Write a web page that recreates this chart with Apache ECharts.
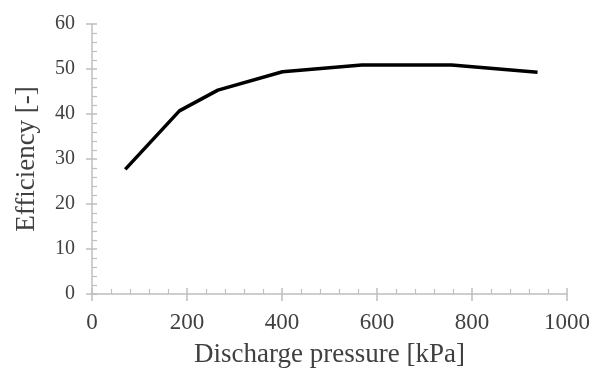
<!DOCTYPE html>
<html><head><meta charset="utf-8">
<script src="https://cdn.jsdelivr.net/npm/echarts@6/dist/echarts.min.js"></script>
<style>html,body{margin:0;padding:0;background:#fff}#c{width:599px;height:368px}</style>
</head><body><div id="c"></div>
<script>
const pressure = [70, 184, 265, 401, 568, 757, 938];
const efficiency = [27.7, 40.7, 45.3, 49.4, 50.9, 50.9, 49.3];
const font = '"Liberation Serif", "Times New Roman", serif';
const axisCol = '#bfbfbf';
const labelCol = '#404040';
const chart = echarts.init(document.getElementById('c'));
const baseX = {type:'value', min:0, max:1000, interval:200, position:'bottom', splitLine:{show:false}};
const baseY = {type:'value', min:0, max:60, interval:10, position:'left', splitLine:{show:false}};
chart.setOption({
  animation:false,
  grid:{left:92, right:32, top:24, bottom:74, containLabel:false, outerBoundsMode:'none'},
  xAxis:[
    Object.assign({}, baseX, {
      name:'Discharge pressure [kPa]', nameLocation:'middle', nameGap:47,
      nameTextStyle:{fontFamily:font, fontSize:27, color:labelCol},
      axisLine:{lineStyle:{color:axisCol, width:1.5}},
      axisTick:{inside:true, length:6, lineStyle:{color:axisCol, width:1.5}},
      minorTick:{show:true, splitNumber:5, length:5, lineStyle:{color:axisCol, width:1.2}},
      axisLabel:{fontFamily:font, fontSize:23, color:labelCol, margin:17, formatter:v=>String(v)}
    }),
    Object.assign({}, baseX, {
      axisLine:{show:false},
      axisTick:{inside:false, length:7, lineStyle:{color:axisCol, width:1.5}},
      axisLabel:{show:false}
    })
  ],
  yAxis:[
    Object.assign({}, baseY, {
      name:'Efficiency [-]', nameLocation:'middle', nameGap:52, nameRotate:90,
      nameTextStyle:{fontFamily:font, fontSize:27, color:labelCol},
      axisLine:{show:true, lineStyle:{color:axisCol, width:1.5}},
      axisTick:{show:true, inside:true, length:5, lineStyle:{color:axisCol, width:1.5}},
      minorTick:{show:true, splitNumber:5, length:5, lineStyle:{color:axisCol, width:1.2}},
      axisLabel:{fontFamily:font, fontSize:20, color:labelCol, margin:17}
    }),
    Object.assign({}, baseY, {
      axisLine:{show:false},
      axisTick:{show:true, inside:false, length:6, lineStyle:{color:axisCol, width:1.5}},
      axisLabel:{show:false}
    })
  ],
  series:[{
    type:'line', xAxisIndex:0, yAxisIndex:0,
    data: pressure.map((p,i)=>[p, efficiency[i]]),
    showSymbol:false, symbol:'none',
    lineStyle:{color:'#000', width:3.5, join:'round'}
  }]
});
</script></body></html>
